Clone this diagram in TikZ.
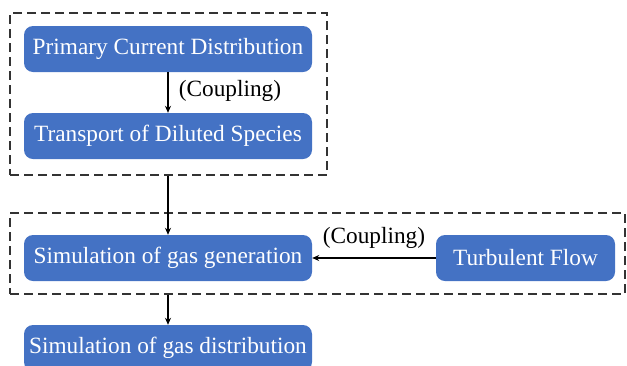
\documentclass[tikz,border=0pt]{standalone}
\usepackage{fontspec}
\setmainfont{Liberation Serif}
\usetikzlibrary{arrows.meta}
\definecolor{boxblue}{HTML}{4472C4}
\tikzstyle{proc}=[fill=boxblue,text=white,rounded corners=9pt,minimum height=46pt,inner sep=0pt,font=\fontsize{23.3}{27}\selectfont]
\tikzstyle{group}=[draw=black!80,dash pattern=on 9pt off 5pt,line width=1.3pt,inner sep=0pt]
\tikzstyle{texto}=[inner sep=0pt,font=\fontsize{23.3}{27}\selectfont]
\tikzstyle{link}=[-{Stealth[length=7pt,width=6pt]},line width=1.1pt]

\begin{document}
\begin{tikzpicture}[x=1pt,y=-1pt]
    \useasboundingbox (0,0) rectangle (627,365);
    % dashed groups
    \node [group,minimum width=317pt,minimum height=162pt] (upper) at (168.5,94) {};
    \node [group,minimum width=615pt,minimum height=81pt] (lower) at (317.5,253.5) {};
    % blocks
    \node [proc,minimum width=288pt] (pcd)  at (168,49)  {Primary Current Distribution};
    \node [proc,minimum width=288pt] (tds)  at (168,136) {Transport of Diluted Species};
    \node [proc,minimum width=288pt] (gen)  at (168,258) {Simulation of gas generation};
    \node [proc,minimum width=179pt] (turb) at (525.5,258) {Turbulent Flow};
    \node [proc,minimum width=288pt] (dist) at (168,348) {Simulation of gas distribution};
    % arrows
    \draw [link] (pcd.south) -- (tds.north);
    \draw [link] (gen.north |- upper.south) -- (gen.north);
    \draw [link] (turb.west) -- (gen.east);
    \draw [link] (dist.north |- lower.south) -- (dist.north);
    \node [texto] (c1) at (230,91)  {(Coupling)};
    \node [texto] (c2) at (374,238) {(Coupling)};
\end{tikzpicture}
\end{document}
